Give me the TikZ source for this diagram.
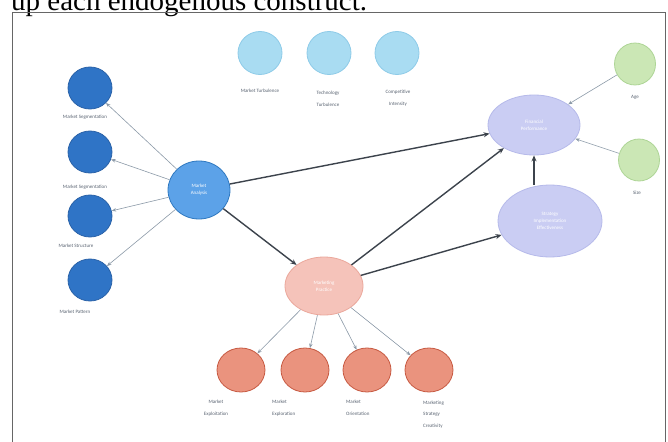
\documentclass[tikz,border=0pt]{standalone}
\usepackage{fontspec}
\setmainfont{Liberation Serif}
\newfontfamily\lab{Carlito}
\usetikzlibrary{shapes.geometric,arrows.meta}
\definecolor{dkblue}{HTML}{2F74C6}
\definecolor{dkblueB}{HTML}{2A62A8}
\definecolor{anblue}{HTML}{5CA2E8}
\definecolor{anblueB}{HTML}{2E78C0}
\definecolor{ltblue}{HTML}{A9DCF2}
\definecolor{ltblueB}{HTML}{8ECBE8}
\definecolor{grn}{HTML}{CBE7B5}
\definecolor{grnB}{HTML}{AED596}
\definecolor{lav}{HTML}{CACDF3}
\definecolor{lavB}{HTML}{B6BAEA}
\definecolor{pnk}{HTML}{F5C3BA}
\definecolor{pnkB}{HTML}{EBA89C}
\definecolor{org}{HTML}{EA937E}
\definecolor{orgB}{HTML}{C75A42}
\definecolor{thk}{HTML}{3C434C}
\definecolor{thn}{HTML}{8C9AA8}
\definecolor{labc}{HTML}{5A6472}
\tikzset{
  bub/.style={ellipse, inner sep=0pt, line width=0.8pt, font=\lab\fontsize{5}{6}\selectfont, text=white, align=center},
  nDark/.style={bub, fill=dkblue, draw=dkblueB, minimum width=44pt, minimum height=42pt},
  nAna/.style={bub, fill=anblue, draw=anblueB, minimum width=62pt, minimum height=58pt},
  nLt/.style={bub, fill=ltblue, draw=ltblueB, minimum width=44pt, minimum height=43pt},
  nGrn/.style={bub, fill=grn, draw=grnB, minimum width=41pt, minimum height=42pt},
  nLav/.style={bub, fill=lav, draw=lavB},
  nPnk/.style={bub, fill=pnk, draw=pnkB, minimum width=78pt, minimum height=58pt},
  nOrg/.style={bub, fill=org, draw=orgB, minimum width=48pt, minimum height=44pt},
  lbl/.style={font=\lab\fontsize{5}{11.5}\selectfont, text=labc, inner sep=0pt},
  thick arrow/.style={draw=thk, line width=1.4pt, -{Stealth[length=6pt,width=5pt]}},
  thin arrow/.style={draw=thn, line width=0.6pt, -{Stealth[length=4.5pt,width=3.5pt]}},
}
\begin{document}
\begin{tikzpicture}[x=1pt,y=-1pt]
\useasboundingbox (0,0) rectangle (668,441);
\clip (0,0) rectangle (668,441);
\fill[white] (0,0) rectangle (668,441);
% caption fragment and frame
\node[anchor=base west, inner sep=0pt, font=\fontsize{29}{30}\selectfont, text=black] (cap) at (11,10.5) {up each endogenous construct.};
\draw[line width=1pt, draw=black!60] (12.5,12.5) rectangle (665,450);
% left dark blue
\node[nDark] (s1) at (90,88) {};
\node[nDark] (s2) at (90,152) {};
\node[nDark] (s3) at (90,216) {};
\node[nDark] (s4) at (90,280) {};
\node[lbl] (l1) at (85,117) {Market Segmentation};
\node[lbl] (l2) at (85,187) {Market Segmentation};
\node[lbl] (l3) at (76,246) {Market Structure};
\node[lbl] (l4) at (75,312) {Market Pattern};
\node[nAna] (ma) at (199,190) {Market\\[1pt]Analysis};
% top light blue
\node[nLt] (t1) at (260,53) {};
\node[nLt] (t2) at (329,53) {};
\node[nLt] (t3) at (397,53) {};
\node[lbl] (tl1) at (260,91) {Market Turbulence};
\node[lbl, align=center] (tl2) at (328,99) {Technology\\Turbulence};
\node[lbl, align=center] (tl3) at (398,98) {Competitive\\Intensity};
% right
\node[nLav, minimum width=92pt, minimum height=60pt] (fp) at (534,125) {Financial\\[1pt]Performance};
\node[nLav, minimum width=104pt, minimum height=72pt] (si) at (550,221) {Strategy\\[1pt]Implementation\\[1pt]Effectiveness};
\node[nGrn] (ag) at (635,64) {};
\node[nGrn] (sz) at (639,160) {};
\node[lbl] (agl) at (635,97) {Age};
\node[lbl] (szl) at (637,193) {Size};
% marketing practice
\node[nPnk] (mp) at (324,286) {Marketing\\[1pt]Practice};
\node[nOrg] (b1) at (241,370) {};
\node[nOrg] (b2) at (305,370) {};
\node[nOrg] (b3) at (367,370) {};
\node[nOrg] (b4) at (429,370) {};
\node[lbl, align=center, anchor=north] (bl1) at (216,400) {Market\\Exploitation};
\node[lbl, align=left, anchor=north west] (bl2) at (272,400) {Market\\Exploration};
\node[lbl, align=left, anchor=north west] (bl3) at (346,400) {Market\\Orientation};
\node[lbl, align=left, anchor=north west] (bl4) at (423,400.5) {Marketing\\Strategy\\Creativity};
% thin arrows
\draw[thin arrow] (ma) -- (s1);
\draw[thin arrow] (ma) -- (s2);
\draw[thin arrow] (ma) -- (s3);
\draw[thin arrow] (ma) -- (s4);
\draw[thin arrow] (ag) -- (fp);
\draw[thin arrow] (sz) -- (fp);
\draw[thin arrow] (mp) -- (b1);
\draw[thin arrow] (mp) -- (b2);
\draw[thin arrow] (mp) -- (b3);
\draw[thin arrow] (mp) -- (b4);
% thick arrows
\draw[thick arrow] (ma) -- (fp);
\draw[thick arrow] (ma) -- (mp);
\draw[thick arrow] (mp) -- (fp);
\draw[thick arrow] (mp) -- (si);
\draw[thick arrow] (si.north -| fp.south) -- (fp.south);
\end{tikzpicture}
\end{document}
